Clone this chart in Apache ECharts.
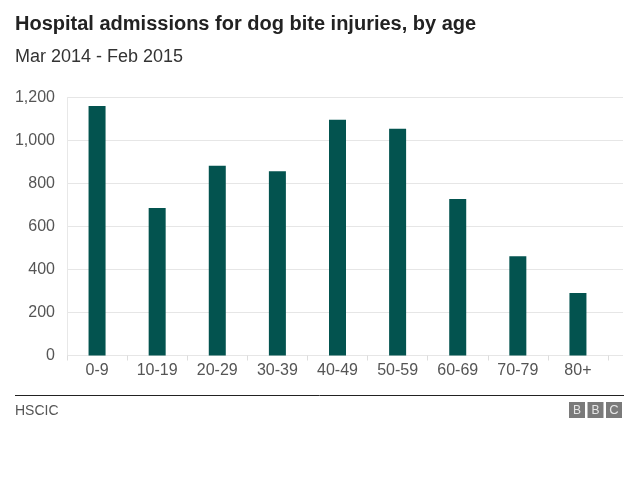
<!DOCTYPE html>
<html>
<head>
<meta charset="utf-8">
<script src="https://cdn.jsdelivr.net/npm/echarts@6/dist/echarts.min.js"></script>
<style>
html,body{margin:0;padding:0;background:#fff;}
#chart{width:640px;height:478px;}
</style>
</head>
<body>
<div id="chart"></div>
<script>
const categories = ['0-9','10-19','20-29','30-39','40-49','50-59','60-69','70-79','80+'];
const admissions = [1160, 686, 883, 857, 1096, 1055, 728, 462, 291];
const yTicks = {min: 0, max: 1200, interval: 200};

const chart = echarts.init(document.getElementById('chart'), null, {renderer: 'canvas'});
const font = 'Liberation Sans, Arial, Helvetica, sans-serif';
chart.setOption({
  animation: false,
  backgroundColor: '#fff',
  title: [
    {text: 'Hospital admissions for dog bite injuries, by age', left: 15, top: 14, padding: 0,
     textStyle: {fontFamily: font, fontSize: 20, fontWeight: 'bold', color: '#222'}},
    {text: 'Mar 2014 - Feb 2015', left: 15, top: 48, padding: 0,
     textStyle: {fontFamily: font, fontSize: 18, fontWeight: 'normal', color: '#333'}},
    {text: 'HSCIC', left: 15, top: 404, padding: 0,
     textStyle: {fontFamily: font, fontSize: 14, fontWeight: 'normal', color: '#555'}}
  ],
  grid: [
    {left: 67, right: 32, top: 97.5, bottom: 122.5, containLabel: false},
    {left: 67, right: 17, top: 97.5, bottom: 122.5, containLabel: false}
  ],
  xAxis: [
    {type: 'category', gridIndex: 0, data: categories,
     axisLine: {show: false},
     axisTick: {show: true, length: 5, lineStyle: {color: '#ddd'}},
     axisLabel: {fontFamily: font, fontSize: 16, color: '#555', margin: 7}},
    {type: 'value', gridIndex: 1, show: false, min: 0, max: 1}
  ],
  yAxis: [
    {type: 'value', gridIndex: 0, min: yTicks.min, max: yTicks.max, interval: yTicks.interval,
     axisLine: {show: true, lineStyle: {color: '#e8e8e8'}},
     axisTick: {show: false},
     splitLine: {show: false},
     axisLabel: {fontFamily: font, fontSize: 16, color: '#555', margin: 12,
       formatter: v => v.toLocaleString('en-GB')}},
    {type: 'value', gridIndex: 1, min: yTicks.min, max: yTicks.max, interval: yTicks.interval,
     axisLine: {show: false}, axisTick: {show: false}, axisLabel: {show: false},
     splitLine: {show: true, lineStyle: {color: '#e6e6e6', width: 1}}}
  ],
  series: [
    {type: 'bar', xAxisIndex: 0, yAxisIndex: 0, data: admissions, barWidth: 17,
     itemStyle: {color: '#03534f'}, z: 5}
  ],
  graphic: [
    {type: 'line', shape: {x1: 15, y1: 395.5, x2: 624, y2: 395.5}, style: {stroke: '#222', lineWidth: 1}},
    {type: 'group', left: 569, top: 402, children: [
      {type: 'rect', shape: {x: 0, y: 0, width: 16, height: 16}, style: {fill: '#7a7a7a'}},
      {type: 'text', style: {x: 8, y: 8.5, text: 'B', fill: '#e6e6e6', font: '12px ' + font, align: 'center', verticalAlign: 'middle'}},
      {type: 'rect', shape: {x: 18.5, y: 0, width: 16, height: 16}, style: {fill: '#7a7a7a'}},
      {type: 'text', style: {x: 26.5, y: 8.5, text: 'B', fill: '#e6e6e6', font: '12px ' + font, align: 'center', verticalAlign: 'middle'}},
      {type: 'rect', shape: {x: 37, y: 0, width: 16, height: 16}, style: {fill: '#7a7a7a'}},
      {type: 'text', style: {x: 45, y: 8.5, text: 'C', fill: '#e6e6e6', font: '13px ' + font, align: 'center', verticalAlign: 'middle'}}
    ]}
  ]
});
</script>
</body>
</html>
